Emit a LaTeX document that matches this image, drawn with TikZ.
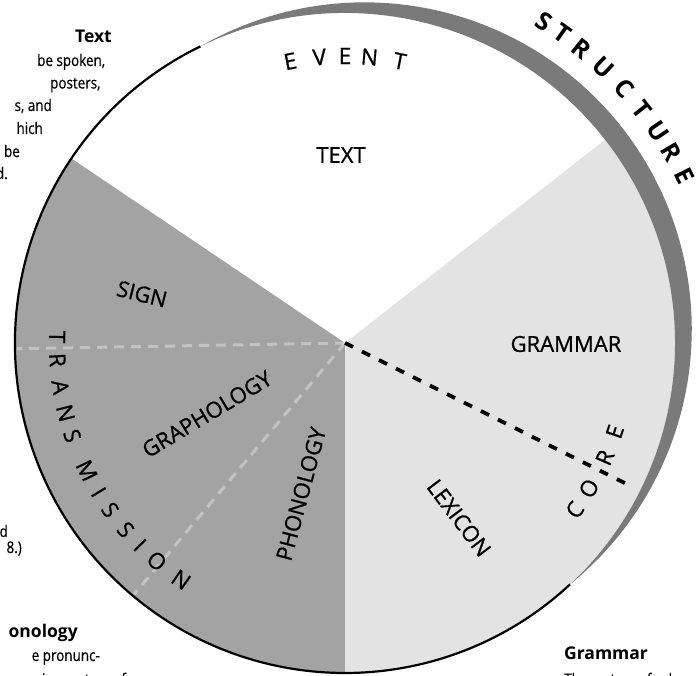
\documentclass[tikz,border=0pt]{standalone}
\usepackage{fontspec}
\setmainfont{Open Sans}
\newfontfamily\bodyfont[FakeStretch=0.84,FakeBold=0.5]{Open Sans}
\newfontfamily\lblfont[FakeBold=0.8]{Open Sans}
\begin{document}
\begin{tikzpicture}[x=1pt,y=1pt,
  lbl/.style={font=\lblfont\fontsize{22}{22}\selectfont, inner sep=0pt},
  arcl/.style={font=\lblfont\fontsize{22.5}{22.5}\selectfont, inner sep=0pt},
  arcb/.style={font=\fontsize{25}{25}\selectfont\bfseries, inner sep=0pt},
  body/.style={font=\bodyfont\fontsize{16}{18}\selectfont, inner sep=0pt},
  bodyb/.style={font=\fontsize{17.5}{19}\selectfont\bfseries, inner sep=0pt},
  coredash/.style={line width=3.8pt, dash pattern=on 9pt off 10pt},
  faint/.style={white, opacity=0.35, line width=3pt, dash pattern=on 10pt off 7pt}]
\useasboundingbox (0,0) rectangle (696,676);
\fill[white] (0,0) rectangle (696,676);
\coordinate (C) at (345,333);
\begin{scope}[shift={(C)}]
  % sectors
  \fill[black!36] (0,0) -- (146:330) arc[start angle=146, end angle=270, radius=330] -- cycle;
  \fill[black!11] (0,0) -- (-90:330) arc[start angle=-90, end angle=38, radius=330] -- cycle;
  % structure band
  \fill[black!52] plot[domain=-47:116, samples=90, variable=\t] (\t:{330+21*sin((\t+47)*1.10429)})
     arc[start angle=116, end angle=-47, radius=330] -- cycle;
  % outline
  \draw[line width=2.2pt] (116:330) arc[start angle=116, end angle=313, radius=330];
  % faint white dividers
  \coordinate (w1) at (181:328);
  \coordinate (w2) at (230:328);
  \draw[faint] (0,0) -- (w1);
  \draw[faint] (0,0) -- (w2);
  % core dashed line
  \coordinate (coreEnd) at (-26.6:317);
  \draw[coredash] (0,0) -- (coreEnd);
  % EVENT
  \foreach \c/\a [count=\i] in {E/101,V/95.1,E/90,N/85.1,T/79}
    \node[arcl, rotate=\a-90] (ev\i) at (\a:287) {\c};
  % STRUCTURE
  \foreach \c/\a [count=\i] in {S/58.2,T/54.9,R/51.2,U/46.8,C/42.4,T/38.2,U/34.1,R/30.3,E/26.2}
    \node[arcb, rotate=\a-90] (st\i) at (\a:378) {\c};
  % TRANSMISSION
  \foreach \c/\a [count=\i] in {T/178.8,R/183.4,A/188.8,N/194.1,S/198.8,M/206.3,I/211.2,S/215.4,S/220.4,I/224.6,O/229.2,N/235.3}
    \node[arcl, rotate=\a+90] (tr\i) at (\a:288) {\c};
  % CORE
  \foreach \c/\a [count=\i] in {C/-36,O/-30.8,R/-23.8,E/-18.2}
    \node[arcl, rotate=\a+90] (co\i) at (\a:284) {\c};
\end{scope}
% inner labels
\node[lbl] (text) at (341,521) {TEXT};
\node[lbl] (grammar) at (566,332) {GRAMMAR};
\node[lbl, rotate=-14] (sign) at (142,382) {SIGN};
\node[lbl, rotate=31] (grapho) at (207,262) {GRAPHOLOGY};
\node[lbl, rotate=75] (phono) at (301,182) {PHONOLOGY};
\node[lbl, rotate=-53] (lexicon) at (459,158) {LEXICON};
% side texts (cut off at page edge)
\node[bodyb, anchor=base east] (tText) at (112,633) {Text};
\node[body, anchor=base west] (t1) at (37,610) {be spoken,};
\node[body, anchor=base west] (t2) at (50,587.5) {posters,};
\node[body, anchor=base east] (t3) at (52,565) {s, and};
\node[body, anchor=base east] (t4) at (43,542) {hich};
\node[body, anchor=base east] (t5) at (20,519) {be};
\node[body, anchor=base east] (t6) at (8,497) {d.};
\node[body, anchor=base east] (t7) at (8,139) {d};
\node[body, anchor=base east] (t8) at (22,123) {8.)};
\node[bodyb, anchor=base east] (t9) at (78,38) {onology};
\node[body, anchor=base east] (t10) at (100,15) {e pronunc-};
\node[body, anchor=base east] (t11) at (137,-9) {ion system of a};
\node[bodyb, anchor=base west] (gG) at (564,16) {Grammar};
\node[body, anchor=base west] (g1) at (564,-9) {The system of rules};
\end{tikzpicture}
\end{document}
